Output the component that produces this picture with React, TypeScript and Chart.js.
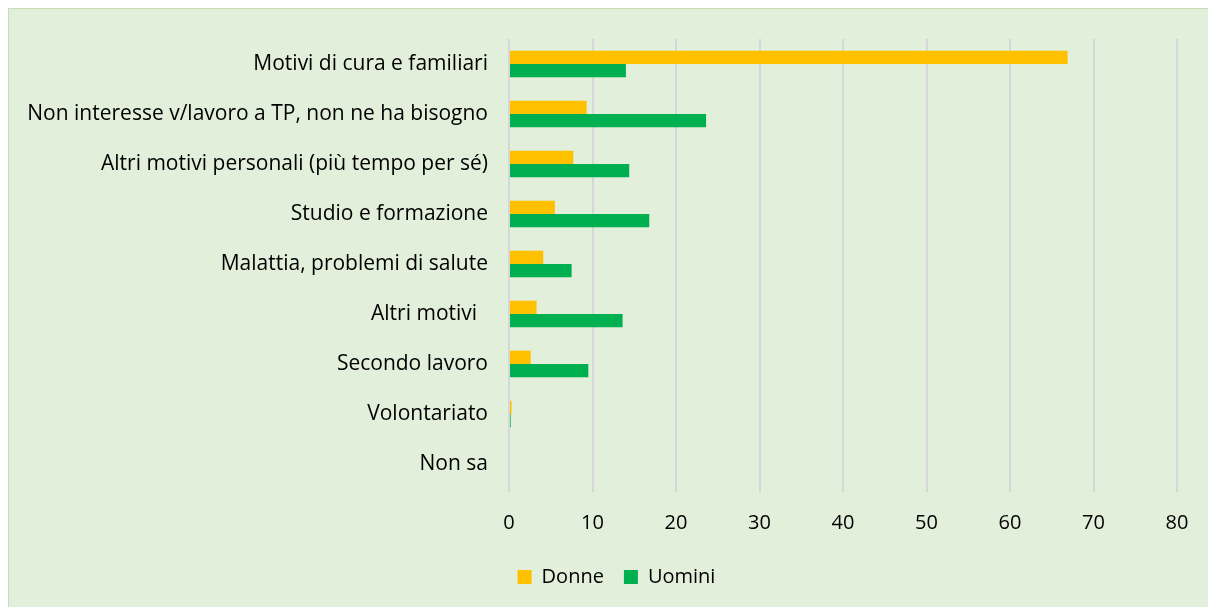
import React, { useEffect, useRef } from "react";
import { Chart, registerables } from "chart.js";

Chart.register(...registerables);

const categories = [
  "Motivi di cura e familiari",
  "Non interesse v/lavoro a TP, non ne ha bisogno",
  "Altri motivi personali (più tempo per sé)",
  "Studio e formazione",
  "Malattia, problemi di salute",
  "Altri motivi  ",
  "Secondo lavoro",
  "Volontariato",
  "Non sa",
];
const donne = [66.9, 9.3, 7.7, 5.5, 4.1, 3.3, 2.6, 0.3, 0];
const uomini = [14.0, 23.6, 14.4, 16.8, 7.5, 13.6, 9.5, 0.2, 0];
const xMin = 0;
const xMax = 80;
const xStep = 10;

const FONT = "'Open Sans', 'Noto Sans', sans-serif";

export default function App() {
  const ref = useRef<HTMLCanvasElement | null>(null);

  useEffect(() => {
    if (!ref.current) return;
    const chart = new Chart(ref.current, {
      type: "bar",
      data: {
        labels: categories,
        datasets: [
          { label: "Donne", data: donne, backgroundColor: "#FFC000", borderWidth: 0 },
          { label: "Uomini", data: uomini, backgroundColor: "#00B050", borderWidth: 0 },
        ],
      },
      options: {
        indexAxis: "y",
        animation: false,
        responsive: true,
        maintainAspectRatio: false,
        layout: { padding: { left: 16, top: 30, right: 0, bottom: 10 } },
        datasets: { bar: { categoryPercentage: 0.533, barPercentage: 1 } },
        scales: {
          x: {
            min: xMin,
            max: xMax,
            ticks: {
              stepSize: xStep,
              color: "#000",
              font: { family: FONT, size: 20 },
              padding: 19,
            },
            grid: { color: "#D6D6D6", lineWidth: 2, tickLength: 3, drawTicks: true },
            border: { display: false },
            afterFit: (s: any) => { s.height = 58; },
          },
          y: {
            ticks: {
              color: "#000",
              font: { family: FONT, size: 21 },
              padding: 13,
              autoSkip: false,
            },
            grid: { display: false },
            border: { display: false },
            afterFit: (s: any) => { s.width = 484; },
          },
          yRight: {
            type: "linear",
            position: "right",
            display: true,
            ticks: { display: false },
            grid: { display: false },
            border: { display: false },
            afterFit: (s: any) => { s.width = 31; },
          },
        },
        plugins: {
          legend: {
            position: "bottom",
            labels: {
              color: "#000",
              font: { family: FONT, size: 20 },
              boxWidth: 14,
              boxHeight: 14,
              padding: 20,
            },
          },
          tooltip: { enabled: false },
        },
      },
    });
    return () => chart.destroy();
  }, []);

  return (
    <div
      style={{
        position: "absolute",
        left: 8,
        top: 8,
        width: 1199,
        height: 598,
        borderTop: "1px solid #C5DFB4",
        borderLeft: "1px solid #C5DFB4",
        background: "#E2EFDA",
        overflow: "hidden",
      }}
    >
      <canvas ref={ref} />
    </div>
  );
}
